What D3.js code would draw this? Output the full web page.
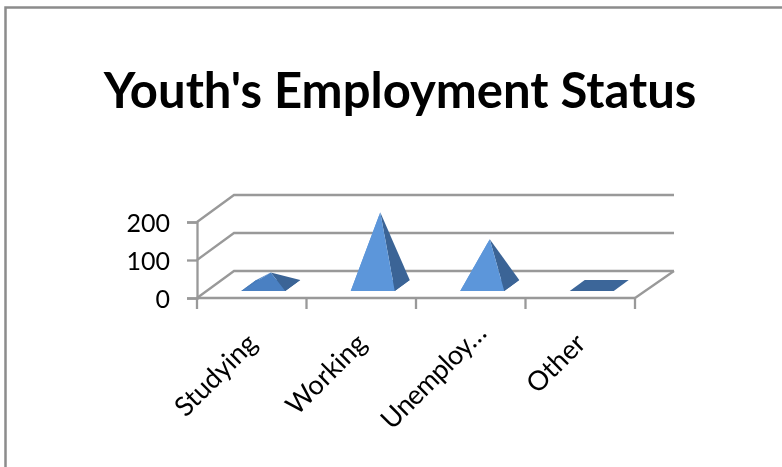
<!DOCTYPE html>
<html><head><meta charset="utf-8">
<script src="https://cdn.jsdelivr.net/npm/d3@7"></script>
<style>html,body{margin:0;padding:0;background:#fff}svg{display:block;filter:blur(.5px)}text{font-family:Lato,"Open Sans",sans-serif;fill:#000}</style>
</head><body><svg id="c" width="782" height="467"></svg>
<script>
const titleText = "Youth's Employment Status";
const categories = ["Studying","Working","Unemploy…","Other"];
const values = [34,193,122,0];
const yTicks = [0,100,200];

const svg = d3.select("#c");
const grey = "#999999";
// outer frame
svg.append("path").attr("d","M5.5,467V7.5H782").attr("fill","none").attr("stroke","#8c8c8c").attr("stroke-width",2.5);
svg.append("text").text(titleText).attr("x",400).attr("y",108).attr("text-anchor","middle")
  .attr("font-size",49).attr("font-weight",700);

const x = d3.scaleBand().domain(categories).range([197,635]);
const y = d3.scaleLinear().domain([0,200]).range([298,222]);
const depth = {dx:37,dy:-27};
const wall = svg.append("g").attr("fill","none").attr("stroke",grey).attr("stroke-width",2.3);
yTicks.forEach(t=>{
  wall.append("path").attr("d",d3.line()([[x.range()[0],y(t)],[x.range()[0]+depth.dx,y(t)+depth.dy],[x.range()[1]+depth.dx+2,y(t)+depth.dy]]));
});
wall.append("path").attr("d",d3.line()([[x.range()[1],y(0)],[x.range()[1]+depth.dx+2,y(0)+depth.dy]]));

// pyramids
const shade = d3.scaleLinear().domain([0,34,120]).range(["#3c6699","#4a80c2","#5c96da"]).clamp(true);
const halfW = 22, skewFront = {dx:-7.5,dy:5.5}, baseMid = -12.5;
const g = svg.append("g");
categories.forEach((c,i)=>{
  const v = values[i];
  const cx = x(c)+x.bandwidth()/2+19, cy = y(0)+baseMid;
  const FL=[cx-halfW+skewFront.dx,cy+skewFront.dy], FR=[cx+halfW+skewFront.dx,cy+skewFront.dy];
  const BL=[cx-halfW-skewFront.dx,cy-skewFront.dy], BR=[cx+halfW-skewFront.dx,cy-skewFront.dy];
  const apex=[cx,cy-(y(0)-y(v))];
  const poly=(pts,fill)=>g.append("polygon").attr("points",pts.join(" ")).attr("fill",fill);
  poly([FL,FR,BR,BL],"#3c6699");
  if(v>0){
    poly([FL,BL,apex],shade(v));
    poly([FR,BR,apex],"#3b6496");
    poly([FL,FR,apex],shade(v));
  }
});

// axes
const edges=[...categories.map(c=>x(c)),x.range()[1]];
svg.append("g").selectAll("line").data(edges).join("line")
  .attr("x1",d=>d).attr("x2",d=>d).attr("y1",y(0)).attr("y2",y(0)+11).attr("stroke",grey).attr("stroke-width",2.3);
svg.append("line").attr("x1",x.range()[0]).attr("x2",x.range()[1]).attr("y1",y(0)).attr("y2",y(0)).attr("stroke",grey).attr("stroke-width",2.3);

const ay = svg.append("g").attr("transform",`translate(197,0)`)
  .call(d3.axisLeft(y).tickValues(yTicks).tickSize(10).tickPadding(17));
ay.selectAll("path,line").attr("stroke",grey).attr("stroke-width",2.3);
ay.selectAll("text").attr("style","font-size:25px;fill:#000").attr("dy",".36em");

svg.append("g").selectAll("text").data(categories).join("text")
  .attr("transform",c=>`translate(${x(c)+x.bandwidth()/2+7},${y(0)+47}) rotate(-45)`)
  .attr("text-anchor","end").attr("font-size",27)
  .attr("dx",d=>d.endsWith("…")?14:0)
  .attr("letter-spacing",d=>d.endsWith("…")?-0.6:0)
  .text(d=>d);
</script></body></html>
